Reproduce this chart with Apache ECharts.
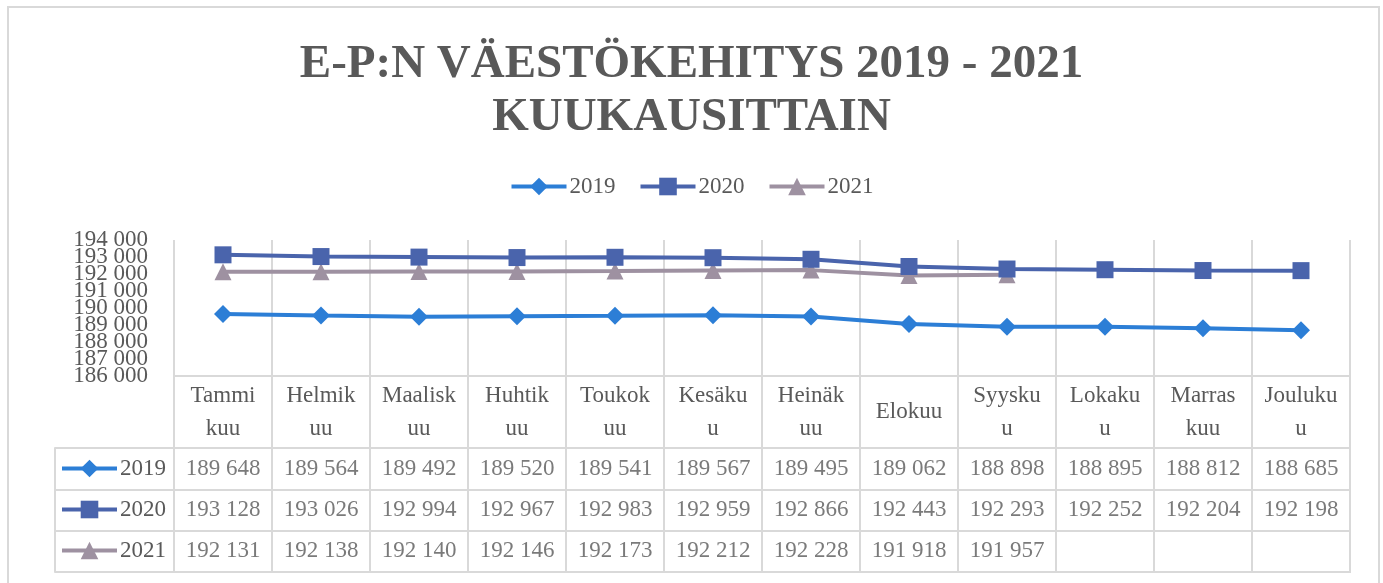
<!DOCTYPE html>
<html>
<head>
<meta charset="utf-8">
<script src="https://cdn.jsdelivr.net/npm/echarts@6/dist/echarts.min.js"></script>
<style>
  html, body { margin: 0; padding: 0; background: #fff; }
  #chart { width: 1383px; height: 583px; }
</style>
</head>
<body>
<div id="chart"></div>
<script>
// month headers, wrapped the way the table shows them
const months = ['Tammi\nkuu', 'Helmik\nuu', 'Maalisk\nuu', 'Huhtik\nuu', 'Toukok\nuu', 'Kesäku\nu',
  'Heinäk\nuu', 'Elokuu', 'Syysku\nu', 'Lokaku\nu', 'Marras\nkuu', 'Jouluku\nu']
const years = ['2019', '2020', '2021']
const v2019 = [189648, 189564, 189492, 189520, 189541, 189567, 189495, 189062, 188898, 188895, 188812, 188685]
const v2020 = [193128, 193026, 192994, 192967, 192983, 192959, 192866, 192443, 192293, 192252, 192204, 192198]
const v2021 = [192131, 192138, 192140, 192146, 192173, 192212, 192228, 191918, 191957, null, null, null]
const yMin = 186000
const yMax = 194000
const yStep = 1000

const colors = ['#2C7ED6', '#4A64AC', '#9E91A1']
const symbols = ['diamond', 'rect', 'triangle']
const symbolSizes = [18, 17, 17]
const font = "'Liberation Serif', serif"
const textColor = '#595959'
const lineColor = '#d9d9d9'

const fmt = v => String(v).replace(/\B(?=(\d{3})+(?!\d))/g, ' ')

const values = [v2019, v2020, v2021]

const chart = echarts.init(document.getElementById('chart'))

const lineSeries = years.map((y, k) => ({
  name: y,
  type: 'line',
  xAxisIndex: 0,
  yAxisIndex: 0,
  data: values[k],
  symbol: symbols[k],
  symbolSize: symbolSizes[k],
  showAllSymbol: true,
  z: k === 1 ? 4 : 3,
  itemStyle: { color: colors[k] },
  lineStyle: { color: colors[k], width: 4 },
  emphasis: { disabled: true }
}))

// table cells as invisible points with labels
const cellData = []
values.forEach((arr, r) => {
  arr.forEach((v, i) => {
    if (v != null) cellData.push([i, r, v])
  })
})

const legendText = { fontFamily: font, fontSize: 23, color: textColor, padding: [0, 0, 0, -2] }

const rowCenters = [469, 510, 551]
const rowLegends = years.map((y, k) => ({
  data: [y],
  left: 60,
  top: rowCenters[k] - 12,
  padding: 0,
  itemWidth: 55,
  itemHeight: 22,
  itemGap: 0,
  selectedMode: false,
  lineStyle: { width: 4 },
  textStyle: legendText
}))

// the labels sit 17px apart, so even and odd thousands go on two stacked axes
// to keep echarts from dropping the neighbours of the end labels
const valueAxis = parity => ({
  type: 'value',
  gridIndex: 0,
  min: yMin,
  max: yMax,
  interval: yStep,
  position: 'left',
  axisLine: { show: false },
  axisTick: { show: false },
  splitLine: { show: false },
  axisLabel: {
    formatter: v => ((v / yStep) % 2 === parity ? fmt(v) : ''),
    hideOverlap: false,
    showMinLabel: true,
    showMaxLabel: true,
    margin: 26,
    fontFamily: font,
    fontSize: 23,
    color: textColor
  }
})

chart.setOption({
  backgroundColor: '#fff',
  animation: false,
  textStyle: { fontFamily: font, color: textColor },
  title: {
    text: 'E-P:N VÄESTÖKEHITYS 2019 - 2021\nKUUKAUSITTAIN',
    left: 'center',
    top: 33,
    textStyle: {
      fontFamily: font,
      fontSize: 47,
      fontWeight: 'bold',
      color: textColor,
      lineHeight: 53
    }
  },
  legend: [{
    data: years,
    left: 'center',
    top: 175,
    padding: 0,
    itemWidth: 55,
    itemHeight: 22,
    itemGap: 23,
    selectedMode: false,
    lineStyle: { width: 4 },
    textStyle: legendText
  }].concat(rowLegends),
  grid: [
    { left: 174, right: 33, top: 240, height: 136, outerBoundsMode: 'none', containLabel: false },
    {
      left: 174, right: 33, top: 448, height: 124, outerBoundsMode: 'none', containLabel: false,
      show: true, borderColor: lineColor, borderWidth: 2
    }
  ],
  xAxis: [
    {
      type: 'category',
      gridIndex: 0,
      data: months,
      boundaryGap: true,
      axisLine: { show: true, lineStyle: { color: lineColor, width: 2 } },
      axisTick: { show: true, length: 71, alignWithLabel: false, lineStyle: { color: lineColor, width: 2 } },
      splitLine: { show: true, showMinLine: true, showMaxLine: true, lineStyle: { color: lineColor, width: 2 } },
      axisLabel: {
        interval: 0,
        hideOverlap: false,
        margin: 36,
        verticalAlign: 'middle',
        fontFamily: font,
        fontSize: 23,
        lineHeight: 33,
        color: textColor
      }
    },
    {
      type: 'category',
      gridIndex: 1,
      data: months,
      boundaryGap: true,
      axisLine: { show: false },
      axisTick: { show: false },
      axisLabel: { show: false },
      splitLine: { show: true, showMinLine: true, showMaxLine: true, lineStyle: { color: lineColor, width: 2 } }
    }
  ],
  yAxis: [
    valueAxis(0),
    {
      type: 'category',
      gridIndex: 1,
      data: years,
      inverse: true,
      boundaryGap: true,
      axisLine: { show: false },
      axisTick: { show: true, length: 119, alignWithLabel: false, lineStyle: { color: lineColor, width: 2 } },
      axisLabel: { show: false },
      splitLine: { show: true, showMinLine: true, showMaxLine: true, lineStyle: { color: lineColor, width: 2 } }
    },
    {
      type: 'category',
      gridIndex: 1,
      data: years,
      inverse: true,
      position: 'left',
      offset: 119,
      axisLine: { show: true, lineStyle: { color: lineColor, width: 2 } },
      axisTick: { show: false },
      axisLabel: { show: false },
      splitLine: { show: false }
    },
    valueAxis(1)
  ],
  graphic: [{
    type: 'rect',
    shape: { x: 8, y: 7, width: 1371, height: 600 },
    style: { fill: 'none', stroke: lineColor, lineWidth: 2 },
    silent: true,
    z: -10
  }],
  series: lineSeries.concat([{
    name: 'table',
    type: 'scatter',
    xAxisIndex: 1,
    yAxisIndex: 1,
    data: cellData,
    symbolSize: 1,
    silent: true,
    itemStyle: { color: 'rgba(0,0,0,0)' },
    label: {
      show: true,
      position: 'inside',
      formatter: p => fmt(p.value[2]),
      fontFamily: font,
      fontSize: 23,
      color: textColor
    },
    emphasis: { disabled: true }
  }]),
  tooltip: { show: false }
})
</script>
</body>
</html>
